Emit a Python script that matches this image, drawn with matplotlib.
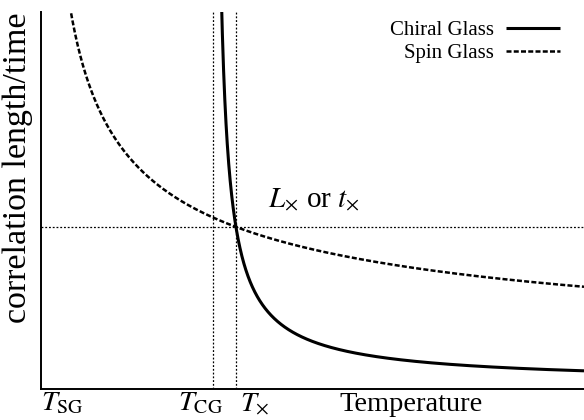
import numpy as np
import matplotlib
matplotlib.use("Agg")
import matplotlib.pyplot as plt

plt.rcParams['font.family'] = ['Liberation Serif', 'DejaVu Serif']
plt.rcParams['mathtext.fontset'] = 'stix'

# Characteristic temperatures (arbitrary units) and the crossover level
T_SG = 0.0
T_CG = 3.17
T_X = 3.59
L_X = 4.30

# Power-law divergence parameters of the two correlation lengths
nu_sg = 0.45
nu_cg = 0.886
offset_cg = 0.13

tick_labels = [r"$T_{\rm SG}$", r"$T_{\rm CG}$", r"$T_{\times}$"]
series_names = ["Chiral Glass", "Spin Glass"]

x_max, y_max = 10.0, 10.0

fig = plt.figure(figsize=(5.84, 4.20), dpi=100)
ax = fig.add_axes([41/584, 31/420, 543/584, 377/420])

# Spin-glass length diverges at T_SG, chiral-glass length at T_CG
A_sg = L_X * (T_X - T_SG) ** nu_sg
A_cg = (L_X - offset_cg) * (T_X - T_CG) ** nu_cg

T1 = np.linspace(T_SG + 0.3, x_max, 800)
xi_sg = A_sg / (T1 - T_SG) ** nu_sg
T2 = np.linspace(T_CG + 0.08, x_max, 1500)
xi_cg = A_cg / (T2 - T_CG) ** nu_cg + offset_cg

l_cg, = ax.plot(T2, xi_cg, color='black', lw=2.2, solid_capstyle='butt')
l_sg, = ax.plot(T1, xi_sg, color='black', lw=1.8, dashes=(2.0, 0.9))

# Guide lines through the crossover point and at T_CG
ax.axhline(L_X, color='black', lw=0.9, dashes=(1.5, 1.5))
ax.axvline(T_CG, color='black', lw=0.9, dashes=(1.5, 1.5))
ax.axvline(T_X, color='black', lw=0.9, dashes=(1.5, 1.5))

ax.set_xlim(0, x_max)
ax.set_ylim(0, y_max)
ax.set_xticks([])
ax.set_yticks([])
for s in ['top', 'right']:
    ax.spines[s].set_visible(False)
for s in ['left', 'bottom']:
    ax.spines[s].set_linewidth(1.4)

ax.text(-0.042, 0.586, "correlation length/time", fontsize=24.5,
        rotation=90, ha='center', va='center', transform=ax.transAxes)

# Temperature labels under the axis
y_base = -0.58
ax.text(T_SG, y_base, tick_labels[0], fontsize=20.5, ha='left', va='baseline')
ax.text(T_CG - 0.64, y_base, tick_labels[1], fontsize=20.5, ha='left', va='baseline')
ax.text(T_X + 0.07, y_base, tick_labels[2], fontsize=20.5, ha='left', va='baseline')
ax.text(5.5, y_base, "Temperature", fontsize=20.5, ha='left', va='baseline')

ax.text(4.18, L_X + 0.35, r"$L_{\times}$ or $t_{\times}$", fontsize=21,
        ha='left', va='bottom')

leg = ax.legend([l_cg, l_sg], series_names, loc='upper right',
                bbox_to_anchor=(0.99, 1.027), frameon=False, fontsize=15,
                markerfirst=False, handlelength=2.6, handletextpad=0.55,
                labelspacing=0.15)
for t in leg.get_texts():
    t.set_ha('right')

fig.savefig("out.png", dpi=100)
